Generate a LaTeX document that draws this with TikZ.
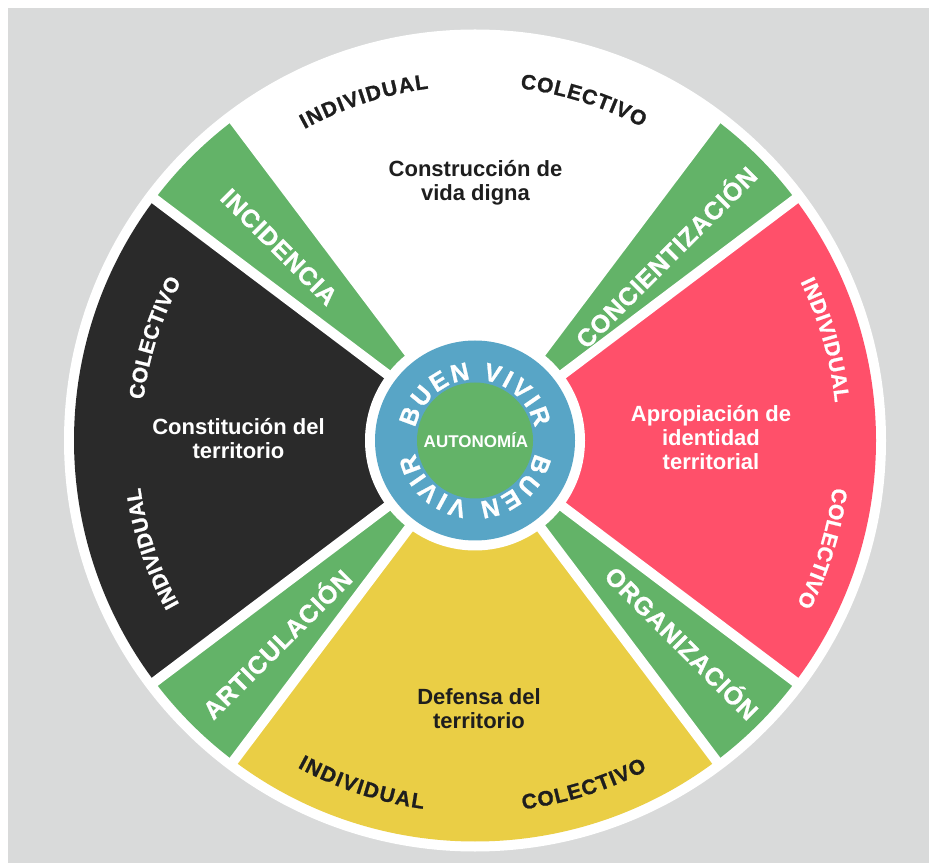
\documentclass[tikz,border=0pt]{standalone}
\usepackage{fontspec}
\setmainfont{Liberation Sans}
\newfontfamily\greenfont{Liberation Sans}[LetterSpace=3, BoldFeatures={FakeBold=1}]
\newfontfamily\heavyfont{Liberation Sans}[BoldFeatures={FakeBold=1}]
\usetikzlibrary{decorations.text,calc}
\definecolor{bggray}{RGB}{217,218,218}
\definecolor{wgreen}{RGB}{99,179,104}
\definecolor{wred}{RGB}{255,80,106}
\definecolor{wyellow}{RGB}{234,206,69}
\definecolor{wblack}{RGB}{42,42,42}
\definecolor{wblue}{RGB}{88,165,198}
\definecolor{wtext}{RGB}{30,30,30}
\newcommand\olbl{\heavyfont\bfseries\fontsize{21}{21}\selectfont}
\newcommand\bvlbl{\heavyfont\bfseries\fontsize{25}{25}\selectfont\color{white}}
\tikzset{
  maintxt/.style={font=\bfseries\fontsize{22}{24}\selectfont, align=center, inner sep=0pt},
  greenlbl/.style={font=\greenfont\bfseries\fontsize{25}{25}\selectfont, text=white, inner sep=0pt},
  sector/.style={draw=none},
  gapline/.style={white, line width=10pt},
  arctext/.style={decorate, decoration={text along path, text align={fit to path}, text={#1}}}
}
\begin{document}
\begin{tikzpicture}[x=1pt,y=1pt]
\useasboundingbox (0,0) rectangle (929,863);
\fill[white] (0,0) rectangle (929,863);
\fill[bggray] (8,0) rectangle (929,855);
\coordinate (C) at (475,422.5);
% wheel
\fill[white] (C) circle (411);
\fill[sector, white]   (C) -- ++(53:401) arc[start angle=53, end angle=127, radius=401] -- cycle;
\fill[sector, wred]    (C) -- ++(-37:401) arc[start angle=-37, end angle=37, radius=401] -- cycle;
\fill[sector, wyellow] (C) -- ++(233:401) arc[start angle=233, end angle=307, radius=401] -- cycle;
\fill[sector, wblack]  (C) -- ++(143:401) arc[start angle=143, end angle=217, radius=401] -- cycle;
\foreach \a in {37,127,217,307}
  \fill[sector, wgreen] (C) -- ++(\a:401) arc[start angle=\a, end angle=\a+16, radius=401] -- cycle;
\foreach \a in {37,53,127,143,217,233,307,323}
  \draw[gapline] (C) -- ++(\a:404);
% centre
\fill[white] (C) circle (110);
\fill[wblue] (C) circle (100);
\fill[wgreen] (C) circle (58);
\node[font=\bfseries\fontsize{17}{17}\selectfont, text=white] (auto) at (476,423) {AUTONOMÍA};
\path[arctext={|\bvlbl|BUEN VIVIR}] ($(C)+(168:61)$) arc[start angle=168, end angle=12, radius=61];
\path[arctext={|\bvlbl|BUEN VIVIR}] ($(C)+(-12:61)$) arc[start angle=-12, end angle=-168, radius=61];
% main texts
\node[maintxt, text=wtext] (vida) at (475.5,680) {Construcción de\\vida digna};
\node[maintxt, text=white] (constit) at (238.5,424) {Constitución del\\territorio};
\node[maintxt, text=white] (apro) at (711,425) {Apropiación de\\identidad\\territorial};
\node[maintxt, text=wtext] (defensa) at (479,154) {Defensa del\\territorio};
% green labels
\node[greenlbl, rotate=-45] (incid) at (279,616) {INCIDENCIA};
\node[greenlbl, rotate=45] (concien) at (665,607) {CONCIENTIZACIÓN};
\node[greenlbl, rotate=-45] (organ) at (683,221) {ORGANIZACIÓN};
\node[greenlbl, rotate=45] (artic) at (276,220) {ARTICULACIÓN};
% outer arc labels
\path[arctext={|\olbl\color{wtext}|INDIVIDUAL}] ($(C)+(118.7:355)$) arc[start angle=118.7, end angle=97.5, radius=355];
\path[arctext={|\olbl\color{wtext}|COLECTIVO}] ($(C)+(82.7:355)$) arc[start angle=82.7, end angle=61.9, radius=355];
\path[arctext={|\olbl\color{white}|INDIVIDUAL}] ($(C)+(26:362)$) arc[start angle=26, end angle=6, radius=362];
\path[arctext={|\olbl\color{white}|COLECTIVO}] ($(C)+(-7.5:361)$) arc[start angle=-7.5, end angle=-27, radius=361];
\path[arctext={|\olbl\color{white}|COLECTIVO}] ($(C)+(173:334)$) arc[start angle=173, end angle=151.5, radius=334];
\path[arctext={|\olbl\color{white}|INDIVIDUAL}] ($(C)+(209:338)$) arc[start angle=209, end angle=188, radius=338];
\path[arctext={|\olbl\color{wtext}|INDIVIDUAL}] ($(C)+(241.5:372)$) arc[start angle=241.5, end angle=262, radius=372];
\path[arctext={|\olbl\color{wtext}|COLECTIVO}] ($(C)+(277.4:372)$) arc[start angle=277.4, end angle=297.6, radius=372];
\end{tikzpicture}
\end{document}
